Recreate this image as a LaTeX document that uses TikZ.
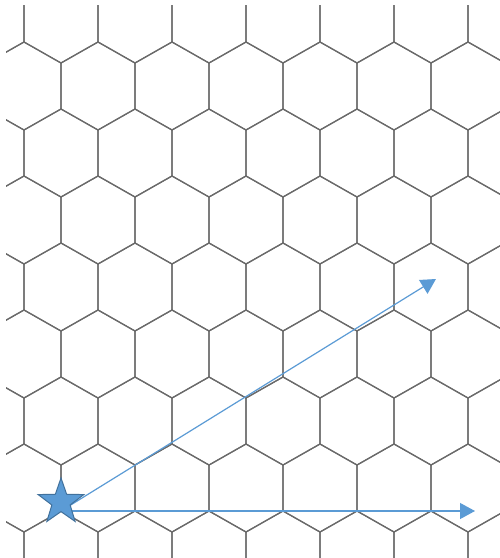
\documentclass[tikz,border=0pt]{standalone}
\usetikzlibrary{arrows.meta}
\definecolor{gridgray}{HTML}{6A6A6A}
\definecolor{officeblue}{HTML}{5B9BD5}
\definecolor{starborder}{HTML}{41719C}
\tikzset{
  hexedge/.style={draw=gridgray, line width=1.2pt, line join=round},
  vecline/.style={draw=officeblue, line width=1.2pt, -{Triangle[length=15pt,width=16pt]}},
  starshape/.style={fill=officeblue, draw=starborder, line width=1pt, line join=miter}
}
\begin{document}
\begin{tikzpicture}[x=1pt,y=-1pt]
\useasboundingbox (0,0) rectangle (500,558);
\fill[white] (0,0) rectangle (500,558);
\begin{scope}
\clip (6,5) rectangle (500,558);
\foreach \r in {-1,...,7}{
  \pgfmathsetmacro{\ty}{42+67*\r}
  \pgfmathsetmacro{\off}{ifthenelse(mod(\r+2,2)==0,24,61)}
  \foreach \k in {-1,...,7}{
    \pgfmathsetmacro{\cx}{\off+74*\k}
    \draw[hexedge] (\cx,\ty) -- (\cx+37,\ty+21) -- (\cx+37,\ty+67) -- (\cx,\ty+88) -- (\cx-37,\ty+67) -- (\cx-37,\ty+21) -- cycle;
  }
}
\end{scope}
\coordinate (origin) at (61,511);
\coordinate (endH) at (475,511);
\coordinate (endD) at (436,279);
\draw[vecline] (origin) -- (endH);
\draw[vecline] (origin) -- (endD);
\draw[starshape, shift={(61,502)}]
  (-90:24) -- (-54:9.6) -- (-18:24) -- (18:9.6) -- (54:24) -- (90:9.6)
  -- (126:24) -- (162:9.6) -- (198:24) -- (234:9.6) -- cycle;
\end{tikzpicture}
\end{document}
